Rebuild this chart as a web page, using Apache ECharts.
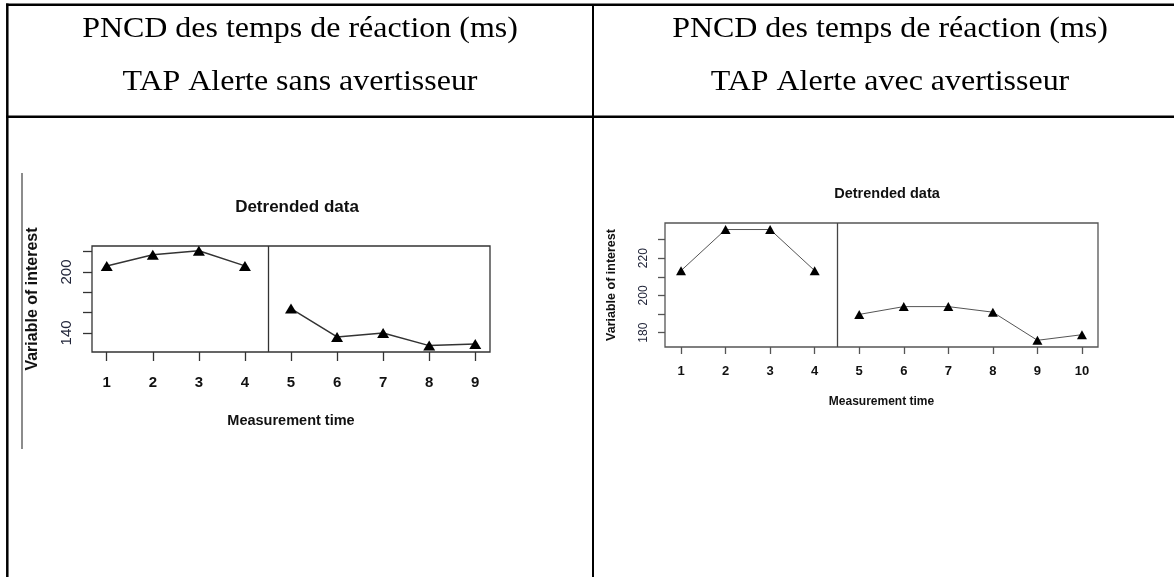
<!DOCTYPE html>
<html><head><meta charset="utf-8">
<script src="https://cdn.jsdelivr.net/npm/echarts@6/dist/echarts.min.js"></script>
<style>html,body{margin:0;padding:0;background:#fff}#c{width:1174px;height:577px}</style>
</head><body><div id="c"></div>
<script>
// ---- text ----
const headerLeft = ["PNCD des temps de réaction (ms)", "TAP Alerte sans avertisseur"];
const headerRight = ["PNCD des temps de réaction (ms)", "TAP Alerte avec avertisseur"];
const chartTitle = "Detrended data";
const xName = "Measurement time";
const yName = "Variable of interest";

// ---- left chart data (sans avertisseur) ----
const leftTimesA = [1, 2, 3, 4];
const leftValuesA = [206, 217, 221, 206];
const leftTimesB = [5, 6, 7, 8, 9];
const leftValuesB = [164, 136, 140, 127.5, 129];
const leftXTicks = [1, 2, 3, 4, 5, 6, 7, 8, 9];
const leftYTicks = [140, 160, 180, 200, 220];
const leftYLabels = [140, 200];

// ---- right chart data (avec avertisseur) ----
const rightTimesA = [1, 2, 3, 4];
const rightValuesA = [213.3, 235.4, 235.4, 213.3];
const rightTimesB = [5, 6, 7, 8, 9, 10];
const rightValuesB = [189.8, 194, 194, 191, 175.9, 178.9];
const rightXTicks = [1, 2, 3, 4, 5, 6, 7, 8, 9, 10];
const rightYTicks = [180, 190, 200, 210, 220, 230];
const rightYLabels = [180, 200, 220];

const phaseChange = 4.5;

const pairs = (xs, ys) => xs.map((x, i) => [x, ys[i]]);
const SANS = 'Liberation Sans';
const SERIF = 'Liberation Serif';

function xAxisCfg(grid, min, max, ticks, fs, margin, tickLen, nameFs, nameGap, col) {
  return {
    gridIndex: grid, type: 'value', min: min, max: max,
    axisLine: { show: false },
    axisTick: { show: true, customValues: ticks, length: tickLen, lineStyle: { color: col, width: 1.3 } },
    axisLabel: { customValues: ticks, margin: margin, fontSize: fs, fontWeight: 'bold', color: '#111', fontFamily: SANS },
    splitLine: { show: false },
    name: xName, nameLocation: 'middle', nameGap: nameGap,
    nameTextStyle: { fontSize: nameFs, fontWeight: 'bold', color: '#111', fontFamily: SANS }
  };
}
function yAxisCfg(grid, min, max, ticks, labels, fs, margin, tickLen, nameFs, nameGap, col) {
  return {
    gridIndex: grid, type: 'value', min: min, max: max,
    axisLine: { show: false },
    axisTick: { show: true, customValues: ticks, length: tickLen, lineStyle: { color: col, width: 1.3 } },
    axisLabel: { customValues: labels, rotate: 90, margin: margin, fontSize: fs, color: '#22263a', fontFamily: SANS },
    splitLine: { show: false },
    name: yName, nameLocation: 'middle', nameGap: nameGap,
    nameTextStyle: { fontSize: nameFs, fontWeight: 'bold', color: '#111', fontFamily: SANS }
  };
}
function lineSeries(xi, yi, data, symSize, lineCol, lw, withMark, markCol) {
  const s = {
    type: 'line', xAxisIndex: xi, yAxisIndex: yi, data: data,
    symbol: 'triangle', symbolSize: symSize, showAllSymbol: true,
    itemStyle: { color: '#000' },
    lineStyle: { color: lineCol, width: lw },
    silent: true, animation: false
  };
  if (withMark) {
    s.markLine = {
      silent: true, symbol: ['none', 'none'], label: { show: false },
      lineStyle: { color: markCol, width: 1.3, type: 'solid' },
      data: [{ xAxis: phaseChange }], animation: false
    };
  }
  return s;
}

const chart = echarts.init(document.getElementById('c'), null, { renderer: 'canvas' });

const headerText = (txt, x, y) => ({
  type: 'text', x: x, y: y, scaleX: 1.065, scaleY: 1,
  style: { text: txt, font: '30px "' + SERIF + '"', fill: '#000', align: 'center', verticalAlign: 'middle' }
});
const ln = (x1, y1, x2, y2, w, c) => ({
  type: 'line', shape: { x1: x1, y1: y1, x2: x2, y2: y2 }, style: { stroke: c || '#000', lineWidth: w }
});

chart.setOption({
  backgroundColor: '#fff',
  animation: false,
  title: [
    { text: chartTitle, left: 292, top: 194, textAlign: 'center',
      textStyle: { fontSize: 17, fontWeight: 'bold', color: '#111', fontFamily: SANS } },
    { text: chartTitle, left: 882, top: 181, textAlign: 'center',
      textStyle: { fontSize: 14.5, fontWeight: 'bold', color: '#111', fontFamily: SANS } }
  ],
  grid: [
    { left: 92, top: 246, width: 398, height: 106, show: true, borderColor: '#333', borderWidth: 1.3, backgroundColor: 'transparent' },
    { left: 665, top: 223, width: 433, height: 124, show: true, borderColor: '#555', borderWidth: 1.3, backgroundColor: 'transparent' }
  ],
  xAxis: [
    xAxisCfg(0, 0.68, 9.32, leftXTicks, 15, 23, 9, 14.5, 61, '#333'),
    xAxisCfg(1, 0.64, 10.36, rightXTicks, 13, 18, 7, 12, 49, '#555')
  ],
  yAxis: [
    yAxisCfg(0, 121.2, 225.6, leftYTicks, leftYLabels, 15, 18, 9, 16, 51, '#333'),
    yAxisCfg(1, 172.3, 238.9, rightYTicks, rightYLabels, 12, 15, 7, 12.5, 47, '#555')
  ],
  series: [
    lineSeries(0, 0, pairs(leftTimesA, leftValuesA), [12, 10], '#333', 1.5, true, '#333'),
    lineSeries(0, 0, pairs(leftTimesB, leftValuesB), [12, 10], '#333', 1.5, false),
    lineSeries(1, 1, pairs(rightTimesA, rightValuesA), [10, 9], '#555', 1, true, '#444'),
    lineSeries(1, 1, pairs(rightTimesB, rightValuesB), [10, 9], '#555', 1, false)
  ],
  graphic: [
    ln(6, 4.7, 1174, 4.7, 2.5),
    ln(7.3, 3.5, 7.3, 577, 2.5),
    ln(6, 116.7, 1174, 116.7, 2.5),
    ln(593, 4, 593, 577, 2),
    ln(22, 173, 22, 449, 1.5, '#666'),
    headerText(headerLeft[0], 300, 29),
    headerText(headerLeft[1], 300, 82),
    headerText(headerRight[0], 890, 29),
    headerText(headerRight[1], 890, 82)
  ]
});
</script>
</body></html>
